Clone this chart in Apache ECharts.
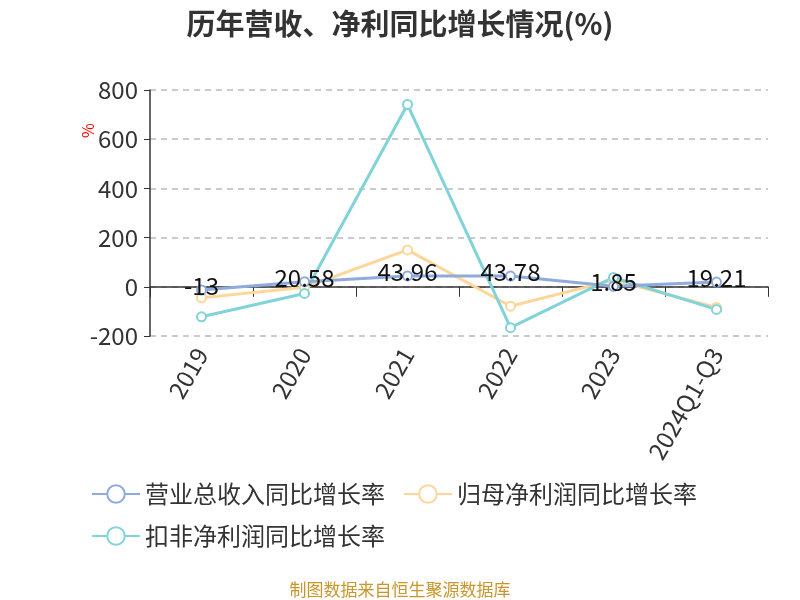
<!DOCTYPE html>
<html><head><meta charset="utf-8">
<script src="https://cdn.jsdelivr.net/npm/echarts@6/dist/echarts.min.js"></script>
<style>html,body{margin:0;padding:0;background:#fff}#c{width:800px;height:600px}</style>
</head><body><div id="c"></div>
<script>
var categories = ['2019','2020','2021','2022','2023','2024Q1-Q3'];
var revenueGrowth = [-13, 20.58, 43.96, 43.78, 1.85, 19.21];
var netProfitGrowth = [-45, -2, 150, -79, 27, -84];
var deductedProfitGrowth = [-122, -27, 741, -166, 38, -92];
var yTicks = {min: -200, max: 800, interval: 200};
var seriesNames = ['营业总收入同比增长率', '归母净利润同比增长率', '扣非净利润同比增长率'];
var colors = ['#8FAADC', '#FFD699', '#80D4D9'];

var font = '"Microsoft YaHei","Noto Sans CJK SC",sans-serif';
var chart = echarts.init(document.getElementById('c'));
function mk(i, data, label) {
  return {
    name: seriesNames[i], type: 'line', data: data,
    symbol: 'emptyCircle', symbolSize: 9,
    lineStyle: {width: 3, color: colors[i]},
    itemStyle: {color: colors[i], borderWidth: 2},
    z: i === 0 ? 5 : 3,
    label: label ? {show: true, position: 'inside', offset: [0, -4], color: '#111', fontSize: 24, fontFamily: font} : {show: false}
  };
}
chart.setOption({
  animation: false,
  color: colors,
  title: {text: '历年营收、净利同比增长情况(%)', left: 'center', top: 4,
    textStyle: {fontSize: 29, fontWeight: 'bold', color: '#333', fontFamily: font}},
  grid: {left: 150, right: 32, top: 90, bottom: 264},
  legend: {left: 86, top: 477, width: 690, itemWidth: 48, itemHeight: 22, itemGap: 18,
    formatter: '{a|{name}}',
    textStyle: {fontSize: 24, color: '#333', fontFamily: font,
      rich: {a: {fontSize: 24, color: '#333', fontFamily: font, width: 256}}},
    data: seriesNames},
  xAxis: {type: 'category', data: categories, boundaryGap: true,
    axisLine: {onZero: true, lineStyle: {color: '#333', width: 1.5}},
    axisTick: {show: true, length: 10, lineStyle: {color: '#333'}},
    axisLabel: {rotate: 60, fontSize: 24, color: '#333', margin: 14, fontFamily: font}},
  yAxis: {type: 'value', min: yTicks.min, max: yTicks.max, interval: yTicks.interval,
    axisLine: {show: true, lineStyle: {color: '#333', width: 1.5}},
    axisTick: {show: true, length: 6, lineStyle: {color: '#333'}},
    axisLabel: {fontSize: 24, color: '#333', fontFamily: font, margin: 12},
    splitLine: {lineStyle: {type: [6, 5], color: '#bbb', width: 1.5}}},
  graphic: [
    {type: 'text', x: 80, y: 138, rotation: Math.PI / 2,
      style: {text: '%', fill: 'red', fontSize: 16, fontFamily: font}},
    {type: 'text', left: 'center', top: 581,
      style: {text: '制图数据来自恒生聚源数据库', fill: '#C8962A', fontSize: 17, fontFamily: font}}],
  series: [mk(0, revenueGrowth, true), mk(1, netProfitGrowth, false), mk(2, deductedProfitGrowth, false)]
});
</script></body></html>
